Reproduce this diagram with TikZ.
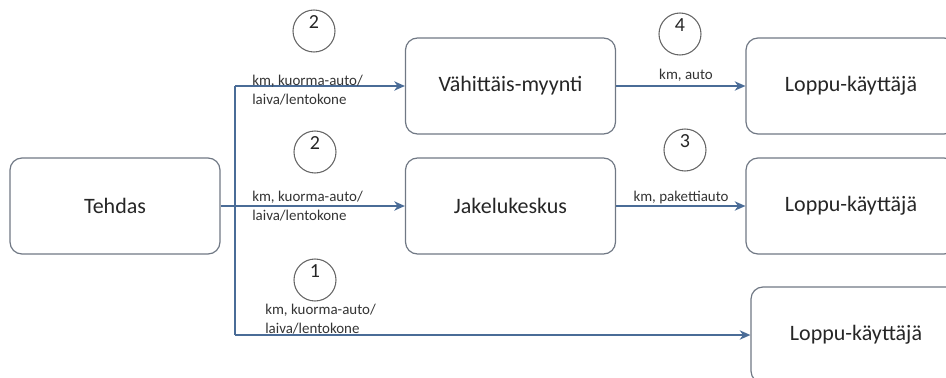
\documentclass[tikz,border=0pt]{standalone}
\usepackage{fontspec}
\setmainfont{Carlito}
\usetikzlibrary{arrows.meta,positioning}
\definecolor{flowblue}{HTML}{4A6C97}
\definecolor{boxgray}{HTML}{707884}

\begin{document}
\begin{tikzpicture}[x=0.75pt, y=-0.75pt,
	stage/.style={rectangle, rounded corners=9pt, draw=boxgray, line width=0.9pt, minimum width=157.5pt, minimum height=72pt, font=\fontsize{16.5}{19}\selectfont, text=black!85},
	hop/.style={circle, draw=black!60, line width=0.8pt, minimum size=31.5pt, inner sep=0pt},
	hopnum/.style={font=\fontsize{15}{17}\selectfont, text=black!85},
	mode/.style={font=\fontsize{11.2}{14.5}\selectfont, text=black!80, align=left, inner sep=0pt},
	flow/.style={-{Stealth[length=8pt, width=7pt, inset=2.5pt]}, draw=flowblue, line width=1.4pt}]
	\clip (0,0) rectangle (946,378);
	
	%stages of the chain
	\node[stage] (tehdas) at (115,206) {Tehdas};
	\node[stage] (vahittais) at (510.5,86) {Vähittäis-myynti};
	\node[stage] (jakelu) at (510.5,206) {Jakelukeskus};
	\node[stage] (loppuA) at (851,86) {Loppu-käyttäjä};
	\node[stage] (loppuB) at (851,206) {Loppu-käyttäjä};
	\node[stage] (loppuC) at (856,335) {Loppu-käyttäjä};
	
	%branch points of the trunk
	\coordinate (trunktop) at (235,86);
	\coordinate (trunkbot) at (235,335);
	
	%flows
	\draw[flowblue, line width=1.4pt] (trunktop) -- (trunkbot);
	\draw[flow] (tehdas) -- (jakelu);
	\draw[flow] (trunktop) -- (vahittais);
	\draw[flow] (trunkbot) -- (loppuC);
	\draw[flow] (vahittais) -- (loppuA);
	\draw[flow] (jakelu) -- (loppuB);
	
	%transport modes
	\node[mode, anchor=west] (modeA) at (252,90) {km, kuorma-auto/\\laiva/lentokone};
	\node[mode, anchor=west] (modeB) at (252,206) {km, kuorma-auto/\\laiva/lentokone};
	\node[mode, anchor=west] (modeC) at (265,319) {km, kuorma-auto/\\laiva/lentokone};
	\node[mode] (modeD) at (686,75) {km, auto};
	\node[mode] (modeE) at (681,198) {km, pakettiauto};
	
	%hop counts
	\node[hop] (hopA) at (314,31) {};
	\node[hopnum] at ([yshift=7pt]hopA.center) {2};
	\node[hop] (hopB) at (315,152) {};
	\node[hopnum] at ([yshift=7pt]hopB.center) {2};
	\node[hop] (hopC) at (315,280) {};
	\node[hopnum] at ([yshift=7pt]hopC.center) {1};
	\node[hop] (hopD) at (680,34) {};
	\node[hopnum] at ([yshift=7pt]hopD.center) {4};
	\node[hop] (hopE) at (685,150) {};
	\node[hopnum] at ([yshift=7pt]hopE.center) {3};
\end{tikzpicture}
\end{document}
